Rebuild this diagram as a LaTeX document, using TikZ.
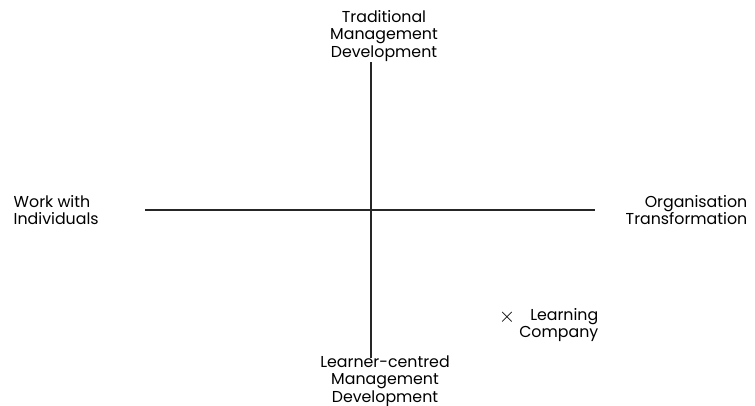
\documentclass[tikz,border=0pt]{standalone}
\usepackage{fontspec}
\setmainfont{Poppins}
\usetikzlibrary{positioning}

\begin{document}
\begin{tikzpicture}[x=0.02cm, y=-0.02cm, thick]

  % Styles
  \tikzset{
    axislabel/.style={inner sep=0pt, font=\fontsize{9}{9.8}\selectfont},
    axisline/.style={line width=0.8pt, black!85}
  }

  \useasboundingbox (0,0) rectangle (755,406);

  % Axis end points
  \coordinate (vtop) at (371,62);
  \coordinate (vbot) at (371,358);
  \coordinate (hleft) at (145,210);
  \coordinate (hright) at (595,210);

  % Axes
  \draw[axisline] (vtop) -- (vbot);
  \draw[axisline] (hleft) -- (hright);

  % Labels
  \node[axislabel, align=center, anchor=north] (trad) at (384,10) {Traditional\\Management\\Development};
  \node[axislabel, align=center, anchor=south] (learner) at (385,407) {Learner-centred\\Management\\Development};
  \node[axislabel, align=left, anchor=west] (work) at (13,210) {Work with\\Individuals};
  \node[axislabel, align=right, anchor=east] (org) at (748,210) {Organisation\\Transformation};

  % Learning Company
  \node[inner sep=0pt, font=\fontsize{13}{13}\selectfont] (cross) at (507,317) {$\times$};
  \node[axislabel, align=right, anchor=north east] (lc) at (599,308) {Learning\\Company};

\end{tikzpicture}
\end{document}
